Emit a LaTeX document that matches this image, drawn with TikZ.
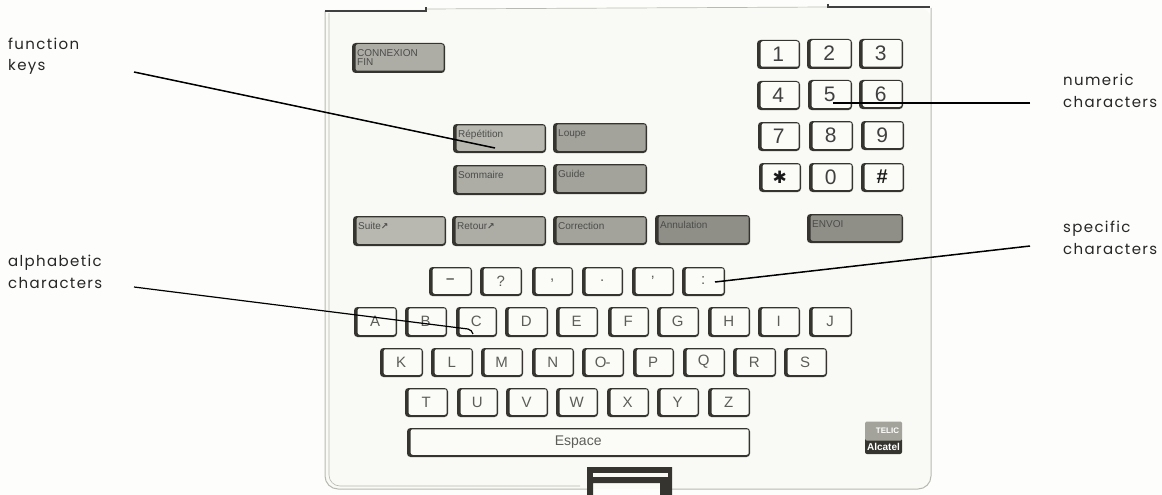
\documentclass[tikz,border=0pt]{standalone}
\usepackage{fontspec}
\setmainfont{Liberation Sans}
\newfontfamily\lab[LetterSpace=9]{Poppins}
\newfontfamily\dejav{DejaVu Sans}
\definecolor{paper}{HTML}{FDFDFB}
\definecolor{panelc}{HTML}{F9F9F5}
\definecolor{rimc}{HTML}{B9B9B3}
\definecolor{keydark}{HTML}{35342F}
\definecolor{keyface}{HTML}{FBFBF8}
\definecolor{inkc}{HTML}{5C5C58}
\definecolor{ggA}{HTML}{B8B8B0}
\definecolor{ggB}{HTML}{ADADA5}
\definecolor{ggC}{HTML}{A3A39B}
\definecolor{ggD}{HTML}{8F8F87}
\tikzset{
  labeltext/.style={anchor=west,align=left,inner sep=0,text=black!85,font=\lab\fontsize{15}{21.5}\selectfont},
  keyouter/.style={fill=keydark,rounded corners=3.5},
  keyinner/.style={rounded corners=2,inner sep=0,text=inkc,font=\fontsize{15}{15}\selectfont,execute at begin node={\hspace*{-3pt}}},
  graytext/.style={anchor=north west,inner sep=0,align=left,text=black!70,font=\fontsize{10}{9.5}\selectfont},
  leader/.style={draw=black,line width=1.5},
  rim/.style={draw=rimc,line width=1},
  rimdark/.style={draw=black!75,line width=1.1}
}
\newcommand{\dg}{\fontsize{21}{21}\selectfont\color{black!75}}
\newcommand{\keycap}[7]{%
  \path[keyouter] (#2,#3) rectangle (#4,#5);
  \node[keyinner,fill=#6,minimum width={(#4-#2-5)*1pt},minimum height={(#5-#3-3.5)*1pt}]
    (#1) at ({(#2+#4)/2+1.2},{(#3+#5)/2-.5}) {#7};}
\newcommand{\graykey}[7]{%
  \keycap{#1}{#2}{#3}{#4}{#5}{#6}{}
  \node[graytext] (#1T) at (#2+5,#3+6) {#7};}
\begin{document}
\begin{tikzpicture}[x=1pt,y=-1pt]
\useasboundingbox[fill=paper] (0,0) rectangle (1162,495);
% panel
\path[fill=panelc,rounded corners=13] (325,10) -- (931,7) -- (931,489) -- (325,489) -- cycle;
\draw[rim,rounded corners=13] (325,11) -- (325,489) -- (587,489);
\draw[rim,rounded corners=13] (672,489) -- (931,489) -- (931,8);
\draw[rim,line width=.6,rounded corners=11] (329,13) -- (329,486) -- (580,486);
\draw[rim,line width=.7] (426,9) -- (828,7);
\draw[rimdark] (325,11) -- (426,11) -- (426,7);
\draw[rimdark] (828,4) -- (828,7) -- (930,7);
% function keys
\graykey{conn}{352}{43}{445}{73}{ggB}{CONNEXION\\FIN}
\graykey{repet}{453}{124}{546}{153}{ggA}{Répétition}
\graykey{loupe}{553}{123}{647}{153}{ggC}{Loupe}
\graykey{somm}{453}{165}{546}{195}{ggB}{Sommaire}
\graykey{guide}{553}{164}{647}{194}{ggC}{Guide}
\graykey{suite}{353}{216}{446}{246}{ggA}{Suite{\dejav\bfseries\fontsize{9}{9}\selectfont ↗}}
\graykey{retour}{452}{216}{546}{246}{ggB}{Retour{\dejav\bfseries\fontsize{9}{9}\selectfont ↗}}
\graykey{corr}{553}{216}{647}{245}{ggC}{Correction}
\graykey{annul}{655}{215}{750}{245}{ggD}{Annulation}
\graykey{envoi}{807}{214}{903}{243}{ggD}{ENVOI}
% numeric keys
\keycap{n1}{757}{40}{800}{69}{keyface}{\dg 1}
\keycap{n2}{807}{39}{852}{69}{keyface}{\dg 2}
\keycap{n3}{859}{39}{903}{69}{keyface}{\dg 3}
\keycap{n4}{757}{81}{800}{110}{keyface}{\dg 4}
\keycap{n5}{808}{80}{852}{110}{keyface}{\dg 5}
\keycap{n6}{859}{80}{903}{109}{keyface}{\dg 6}
\keycap{n7}{758}{122}{800}{151}{keyface}{\dg 7}
\keycap{n8}{809}{121}{853}{151}{keyface}{\dg 8}
\keycap{n9}{861}{121}{904}{150}{keyface}{\dg 9}
\keycap{nstar}{759}{163}{801}{192}{keyface}{\dejav\fontsize{17}{17}\selectfont\color{black!90}✱}
\keycap{n0}{809}{163}{853}{192}{keyface}{\dg 0}
\keycap{nhash}{861}{163}{904}{192}{keyface}{\bfseries\fontsize{20}{20}\selectfont\color{black!90}\#}
% specific keys
\keycap{pmin}{429}{267}{472}{296}{keyface}{\bfseries –}
\keycap{pq}{480}{267}{522}{296}{keyface}{?}
\keycap{pcom}{532}{267}{573}{296}{keyface}{,}
\keycap{pdot}{582}{267}{623}{296}{keyface}{.}
\keycap{papo}{632}{267}{674}{296}{keyface}{'}
\keycap{pcol}{682}{267}{725}{296}{keyface}{:}
% letters
\foreach \n/\a/\b in {A/354/397,B/405/447,C/456/497,D/505/548,E/556/598,F/608/649,G/657/699,H/708/750,I/758/800,J/809/852}
  {\keycap{\n}{\a}{307}{\b}{337}{keyface}{\n}}
\foreach \n/\a/\b in {K/380/423,L/431/473,M/481/523,N/532/574,P/633/674,Q/683/725,R/733/776,S/784/827}
  {\keycap{\n}{\a}{348}{\b}{377}{keyface}{\n}}
\keycap{O}{582}{348}{624}{377}{keyface}{O\kern-1pt-}
\foreach \n/\a/\b in {T/405/448,U/457/498,V/506/548,W/556/598,X/607/649,Y/657/699,Z/708/750}
  {\keycap{\n}{\a}{388}{\b}{417}{keyface}{\n}}
\keycap{space}{407}{428}{750}{457}{keyface}{\fontsize{14}{14}\selectfont Espace}
% latch
\path[fill=keydark] (587,467) -- (672,467) -- (672,495) -- (660,495) -- (660,483) -- (593,483) -- (593,495) -- (587,495) -- cycle;
\path[fill=panelc] (593,473) rectangle (668,477);
% logo
\path[fill=keydark,rounded corners=2] (865,438) rectangle (902,454);
\node[fill=ggC,rounded corners=1.5,minimum width=37pt,minimum height=19pt,inner sep=0,text=white,font=\bfseries\fontsize{8}{8}\selectfont] (logoA) at (883.5,431) {\hspace*{8pt}TELIC};
\node[inner sep=0,text=white,font=\bfseries\fontsize{10}{10}\selectfont] (logoB) at (883.5,447) {Alcatel};
% labels
\node[labeltext] (lfn) at (8,56) {function\\keys};
\node[labeltext] (lal) at (8,272) {alphabetic\\characters};
\node[labeltext] (lnu) at (1063,91) {numeric\\characters};
\node[labeltext] (lsp) at (1063,238) {specific\\characters};
% leaders
\coordinate (fa) at (134,72); \coordinate (fb) at (495,148);
\coordinate (aa) at (134,287); \coordinate (ab) at (468,329); \coordinate (ac) at (473,334);
\coordinate (na) at (1030,103); \coordinate (nb) at (833,103);
\coordinate (sa) at (1030,246); \coordinate (sb) at (715,282);
\draw[leader] (fa) -- (fb);
\draw[leader,line width=1.2] (aa) -- (ab) to[bend left=30] (ac);
\draw[leader,line width=1.2] (na) -- (nb);
\draw[leader] (sa) -- (sb);
\end{tikzpicture}
\end{document}
